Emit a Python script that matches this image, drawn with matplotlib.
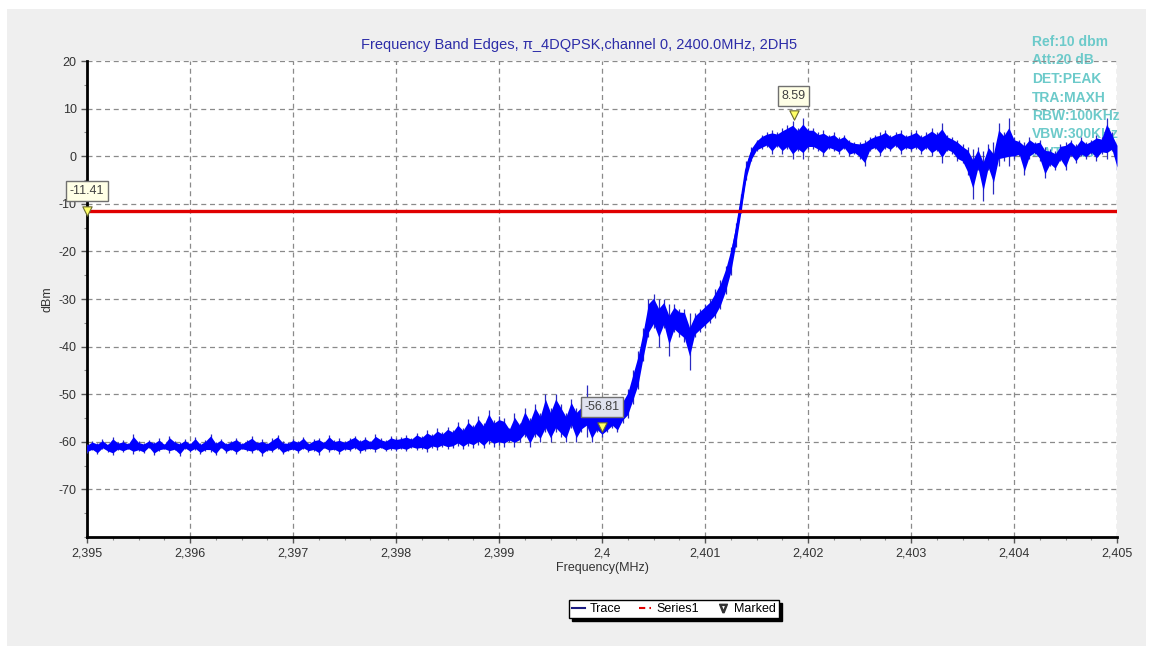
import numpy as np
import matplotlib
matplotlib.use("Agg")
import matplotlib.pyplot as plt
from matplotlib.lines import Line2D
from matplotlib.patches import Rectangle

plt.rcParams["font.family"] = ["Liberation Sans", "DejaVu Sans"]
plt.rcParams["axes.unicode_minus"] = False

# trace sampled every 0.05 MHz, upper / lower edge of the noisy trace (dBm)
freq = np.round(np.arange(2395.0, 2405.0001, 0.05), 2)

trace_hi = [
    # 2395.00 - 2398.00
    -60.5, -59.8, -60.2, -59.5, -60.4, -58.9, -60.1, -59.7, -60.3, -58.4,
    -59.9, -60.2, -59.6, -60.0, -59.3, -60.4, -58.7, -59.8, -60.1, -59.5,
    -60.2, -59.0, -60.3, -59.6, -58.3, -60.0, -59.4, -60.2, -59.8, -59.1,
    -60.3, -59.6, -58.8, -60.0, -59.5, -60.2, -59.3, -58.6, -59.9, -60.1,
    -59.4, -59.8, -58.9, -60.2, -59.5, -59.1, -60.0, -58.5, -59.7, -59.3,
    -59.9, -59.2, -58.7, -59.6, -59.0, -59.8, -58.4, -59.3, -59.6, -58.8,
    -59.2,
    # 2398.05 - 2399.00
    -59.0, -58.6, -59.2, -58.1, -58.8, -57.6, -58.4, -57.2, -58.0, -56.8,
    -57.5, -55.9, -57.1, -55.2, -56.4, -54.5, -56.0, -53.3, -55.4, -54.6,
    # 2399.05 - 2400.00
    -55.0, -57.0, -54.0, -56.0, -53.0, -55.0, -52.0, -54.0, -50.0, -53.0,
    -50.0, -52.0, -54.0, -51.0, -53.0, -52.0, -48.0, -54.0, -53.0, -54.0,
    # 2400.05 - 2401.00
    -54.0, -53.0, -54.0, -51.0, -49.0, -45.0, -41.0, -36.0, -30.0, -29.0,
    -30.0, -30.0, -31.0, -31.0, -32.0, -32.0, -33.0, -33.0, -32.0, -31.0,
    # 2401.05 - 2402.00
    -30.0, -28.0, -26.0, -23.0, -19.0, -14.0, -8.0, -1.0, 2.0, 3.5,
    4.5, 5.0, 5.5, 5.0, 6.0, 6.5, 7.5, 6.0, 8.0, 6.0,
    # 2402.05 - 2403.00
    6.0, 5.0, 5.5, 4.5, 5.0, 4.0, 4.5, 3.5, 3.0, 3.0,
    3.5, 4.0, 4.5, 5.0, 5.5, 4.5, 5.0, 5.5, 4.5, 5.0,
    # 2403.05 - 2404.00
    5.5, 4.5, 5.0, 6.0, 5.0, 7.0, 4.5, 4.0, 3.5, 2.5,
    2.0, 1.5, 2.0, 1.0, 2.5, 3.0, 7.0, 5.0, 8.0, 4.0,
    # 2404.05 - 2405.00
    3.5, 3.0, 4.0, 3.0, 3.5, 2.0, 1.5, 1.0, 2.5, 3.0,
    3.5, 2.5, 4.0, 3.0, 3.5, 4.5, 4.0, 8.0, 5.0, 3.0,
]

trace_lo = [
    # 2395.00 - 2398.00
    -62.3, -61.8, -62.6, -61.5, -62.1, -62.8, -61.7, -62.2, -61.6, -62.5,
    -61.9, -62.4, -61.3, -62.7, -62.0, -61.6, -62.3, -61.8, -62.9, -61.5,
    -62.2, -61.7, -62.5, -61.9, -62.1, -62.8, -61.4, -62.3, -61.8, -62.6,
    -61.6, -62.0, -62.4, -61.7, -62.9, -61.9, -62.2, -61.5, -62.6, -62.0,
    -61.8, -62.3, -61.6, -62.1, -61.9, -62.7, -61.4, -62.2, -61.8, -62.5,
    -61.7, -62.0, -61.5, -62.3, -61.9, -61.6, -62.1, -61.4, -62.0, -61.7,
    -61.9,
    # 2398.05 - 2399.00
    -61.6, -62.0, -61.3, -61.8, -61.5, -62.1, -61.2, -61.7, -61.0, -61.6,
    -61.3, -60.8, -61.5, -60.9, -61.2, -60.6, -61.4, -60.5, -61.0, -60.7,
    # 2399.05 - 2400.00
    -61.0, -60.0, -61.0, -60.0, -59.0, -61.0, -59.0, -60.0, -58.0, -60.0,
    -58.0, -59.0, -60.0, -57.0, -60.0, -58.0, -59.0, -60.0, -58.0, -59.0,
    # 2400.05 - 2401.00
    -58.0, -57.0, -58.0, -56.0, -55.0, -52.0, -49.0, -43.0, -38.0, -36.0,
    -40.0, -36.0, -42.0, -37.0, -38.0, -39.0, -45.0, -38.0, -37.0, -36.0,
    # 2401.05 - 2402.00
    -35.0, -34.0, -32.0, -29.0, -25.0, -19.0, -12.0, -5.0, -1.0, 1.0,
    1.5, 2.0, 0.5, 2.0, 0.5, 1.5, -0.5, 1.0, -0.5, 1.5,
    # 2402.05 - 2403.00
    1.5, 1.0, 0.0, 1.5, 1.0, 0.5, 1.5, 0.0, 0.5, -0.5,
    -2.0, 1.0, 1.5, 0.0, 1.5, 1.0, 2.0, 0.5, 1.5, 1.0,
    # 2403.05 - 2404.00
    1.5, 0.5, 1.5, 0.0, 1.0, -1.5, 1.0, 0.5, -1.0, -1.5,
    -4.0, -9.0, -3.0, -9.5, -3.0, -8.0, -2.0, -1.0, -2.0, -0.5,
    # 2404.05 - 2405.00
    0.0, -4.0, -0.5, 0.5, -1.0, -4.5, -2.0, -3.0, -1.0, -3.0,
    0.0, -1.5, 0.0, -0.5, 0.5, -1.0, 0.5, -0.5, 1.0, -3.0,
]

limit_line = -11.41

marker_freq = [2395.0, 2400.0, 2401.86]
marker_vals = [-11.41, -56.81, 8.59]
marker_box = ["#ffffe6", "#dfe2ef", "#ffffe6"]

x_tick_vals = [2395, 2396, 2397, 2398, 2399, 2400, 2401, 2402, 2403, 2404, 2405]
x_tick_text = ["2,395", "2,396", "2,397", "2,398", "2,399", "2,4",
               "2,401", "2,402", "2,403", "2,404", "2,405"]
y_tick_vals = [-70, -60, -50, -40, -30, -20, -10, 0, 10, 20]

settings = ["Ref:10 dbm", "Att:20 dB", "DET:PEAK", "TRA:MAXH",
            "RBW:100KHz", "VBW:300KHz", "SWT:auto"]

W, H = 1149, 646
fig = plt.figure(figsize=(W / 100, H / 100), dpi=100, facecolor="white")

# grey panel behind the chart
fig.patches.append(Rectangle((7 / W, 0), 1139 / W, (H - 9) / H,
                             transform=fig.transFigure, facecolor="#efefef",
                             edgecolor="none", zorder=-10))

ax = fig.add_axes([87 / W, 1 - 537 / H, 1030 / W, 476 / H])
ax.set_facecolor("white")

hi = np.array(trace_hi)
lo = np.array(trace_lo)
mid = (hi + lo) / 2
half = np.minimum((hi - lo) * 0.38, 3.0)

# thin spikes over the full span, solid blue body in the middle
ax.vlines(freq, lo, hi, color="#2a2ac0", lw=0.9, zorder=3)
ax.fill_between(freq, mid - half, mid + half, color="#0000ff", lw=0, zorder=3)
ax.plot(freq, mid, color="#0000ff", lw=1.8, zorder=3)

ax.axhline(limit_line, color="#e00000", lw=2.4, zorder=4)

ax.scatter(marker_freq, marker_vals, marker="v", s=45, color="#ffff66",
           edgecolor="#6a6a30", linewidths=0.8, zorder=6, clip_on=False)
for f, v, c in zip(marker_freq, marker_vals, marker_box):
    ax.annotate(f"{v:.2f}", (f, v), xytext=(0, 14), textcoords="offset points",
                ha="center", va="center", fontsize=9, color="#404040",
                bbox=dict(boxstyle="square,pad=0.3", fc=c, ec="#707070", lw=1),
                zorder=7, annotation_clip=False)

ax.set_xlim(2395, 2405)
ax.set_ylim(-80, 20)
ax.set_xticks(x_tick_vals)
ax.set_xticklabels(x_tick_text)
ax.set_yticks(y_tick_vals)
ax.set_xticks(np.arange(2395, 2405.01, 0.25), minor=True)
ax.set_yticks(np.arange(-80, 20.1, 5), minor=True)
ax.tick_params(axis="both", which="major", labelsize=9, labelcolor="#333333",
               length=4, width=1, color="#555555")
ax.tick_params(axis="both", which="minor", length=2, width=0.8, color="#888888")

ax.grid(True, which="major", linestyle=(0, (4, 3)), color="#8a8a8a", lw=0.9)

for s in ["top", "right"]:
    ax.spines[s].set_visible(False)
for s in ["left", "bottom"]:
    ax.spines[s].set_linewidth(2)
    ax.spines[s].set_color("black")

ax.set_xlabel("Frequency(MHz)", fontsize=9, color="#333333", labelpad=2)
ax.set_ylabel("dBm", fontsize=9, color="#333333", labelpad=4)

fig.text(579 / W, 1 - 45 / H,
         "Frequency Band Edges, π_4DQPSK,channel 0, 2400.0MHz, 2DH5",
         ha="center", va="center", fontsize=10.5, color="#2c2ca8")

# instrument settings, the trace runs over them
for i, t in enumerate(settings):
    ax.text(1032 / W, 1 - (42 + 18.5 * i) / H, t, transform=fig.transFigure,
            ha="left", va="center", fontsize=10, fontweight="bold",
            color="#6ccaca", zorder=1, clip_on=False)

handles = [
    Line2D([], [], color="#1a1a80", lw=1.5),
    Line2D([], [], color="#e00000", lw=1.5, linestyle=(0, (3, 2, 1, 2))),
    Line2D([], [], color="#333333", marker="$\\nabla$", linestyle="none",
           markersize=6),
]
fig.legend(handles, ["Trace", "Series1", "Marked"], loc="center",
           bbox_to_anchor=(674 / W, 1 - 609 / H), ncol=3, fontsize=9,
           frameon=True, fancybox=False, edgecolor="black",
           shadow={"color": "black", "alpha": 1}, handlelength=1.0,
           handletextpad=0.4, columnspacing=1.4, borderpad=0.25)

plt.savefig("out.png", dpi=100)
plt.close()
